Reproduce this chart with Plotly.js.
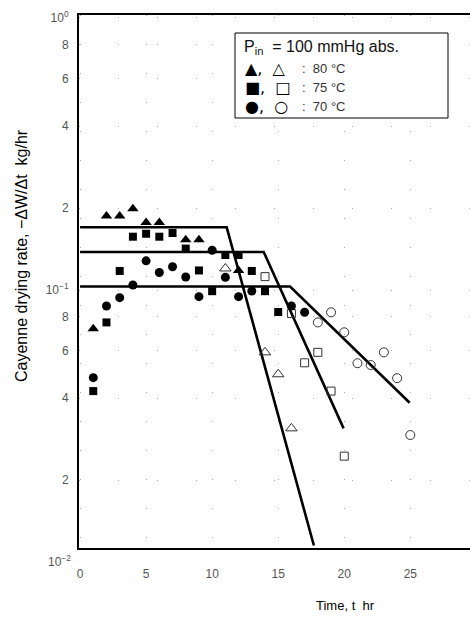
<!DOCTYPE html>
<html>
<head>
<meta charset="utf-8">
<script src="https://cdn.plot.ly/plotly-3.0.1.min.js"></script>
<style>
html,body{margin:0;padding:0;overflow:hidden;background:#fff;}
#chart{width:560px;height:621px;}
</style>
</head>
<body>
<div id="chart"></div>
<script>
// ---- data (time in hr, drying rate in kg/hr) ----
const triFillT = [1, 2, 3, 4, 5, 6, 8, 9, 12];
const triFillV = [0.072, 0.187, 0.187, 0.199, 0.177, 0.177, 0.153, 0.153, 0.118];
const triOpenT = [11, 14, 15, 16];
const triOpenV = [0.120, 0.059, 0.049, 0.031];

const sqFillT = [1, 2, 3, 4, 5, 6, 7, 8, 9, 10, 11, 12, 13, 14, 15];
const sqFillV = [0.0425, 0.076, 0.1175, 0.157, 0.161, 0.157, 0.162, 0.142, 0.118, 0.099, 0.1345, 0.1345, 0.1175, 0.099, 0.083];
const sqOpenT = [14, 16, 17, 18, 19, 20];
const sqOpenV = [0.112, 0.082, 0.054, 0.059, 0.0425, 0.0245];

const ciFillT = [1, 2, 3, 4, 5, 6, 7, 8, 9, 10, 11, 12, 13, 16, 17];
const ciFillV = [0.0476, 0.0873, 0.0937, 0.1043, 0.128, 0.116, 0.1218, 0.1116, 0.0945, 0.140, 0.1113, 0.0945, 0.0992, 0.0873, 0.0828];
const ciOpenT = [18, 19, 20, 21, 22, 23, 24, 25];
const ciOpenV = [0.076, 0.0828, 0.0699, 0.0538, 0.053, 0.059, 0.0474, 0.0293];

// fitted lines: constant-rate then falling-rate
const line80T = [0, 11.1, 17.7];
const line80V = [0.170, 0.170, 0.0115];
const line75T = [0, 13.9, 19.95];
const line75V = [0.138, 0.138, 0.031];
const line70T = [0, 15.9, 24.95];
const line70V = [0.103, 0.103, 0.0385];

const xTicks = [0, 5, 10, 15, 20, 25, 30];
const yTickVals = [0.02, 0.04, 0.06, 0.08, 0.1, 0.2, 0.4, 0.6, 0.8, 1];
const yTickText = ['2', '4', '6', '8', '10<sup>−1</sup>', '2', '4', '6', '8', '10<sup>0</sup>'];

const legendTitle = 'P<sub>in</sub>  = 100 mmHg abs.';
const legendSymbols = ['▲,  △', '■,  □', '●,  ○'];
const legendLabels = [':  80 °C', ':  75 °C', ':  70 °C'];
const xTitle = 'Time, t  hr';
const yTitle = 'Cayenne drying rate, −ΔW/Δt  kg/hr';

// ---- traces ----
function pts(t, v, sym, size, open) {
  return {
    x: t, y: v, type: 'scatter', mode: 'markers', showlegend: false, hoverinfo: 'skip',
    marker: {
      symbol: sym, size: size,
      color: open ? '#333' : '#000',
      line: {width: open ? 1 : 0, color: '#333'}
    }
  };
}
function ln(t, v) {
  return {x: t, y: v, type: 'scatter', mode: 'lines', showlegend: false, hoverinfo: 'skip',
          line: {color: '#000', width: 2.6}};
}
const traces = [
  ln(line80T, line80V), ln(line75T, line75V), ln(line70T, line70V),
  pts(triFillT, triFillV, 'triangle-up', 10, false),
  pts(triOpenT, triOpenV, 'triangle-up-open', 10, true),
  pts(sqFillT, sqFillV, 'square', 8, false),
  pts(sqOpenT, sqOpenV, 'square-open', 8, true),
  pts(ciFillT, ciFillV, 'circle', 9, false),
  pts(ciOpenT, ciOpenV, 'circle-open', 9, true)
];

// ---- layout ----
const W = 560, XMAX = 33;
const L = 79, T = 15, PH = 533;
const PW = Math.round((XMAX + 0.08) * 13.2);
const px = x => (x - L) / PW;
const py = y => (T + PH - y) / PH;

const ann = [];
ann.push({xref: 'paper', yref: 'paper', x: px(242), y: py(48), xanchor: 'left', yanchor: 'middle',
          text: legendTitle, showarrow: false, font: {size: 16, color: '#111'}});
const rowY = [68, 87, 106];
for (let i = 0; i < 3; i++) {
  ann.push({xref: 'paper', yref: 'paper', x: px(243), y: py(rowY[i]), xanchor: 'left', yanchor: 'middle',
            text: legendSymbols[i], showarrow: false, font: {size: 16, color: '#000', family: 'DejaVu Sans'}});
  ann.push({xref: 'paper', yref: 'paper', x: px(300), y: py(rowY[i]), xanchor: 'left', yanchor: 'middle',
            text: legendLabels[i], showarrow: false, font: {size: 13, color: '#333'}});
}
ann.push({xref: 'paper', yref: 'paper', x: px(73), y: py(561), xanchor: 'right', yanchor: 'middle',
          text: '10<sup>−2</sup>', showarrow: false, font: {size: 12, color: '#555'}});
ann.push({xref: 'paper', yref: 'paper', x: px(345), y: py(605), xanchor: 'center', yanchor: 'middle',
          text: xTitle, showarrow: false, font: {size: 13, color: '#000'}});
ann.push({xref: 'paper', yref: 'paper', x: px(21), y: py(256), xanchor: 'center', yanchor: 'middle',
          textangle: -90, text: yTitle, showarrow: false, font: {size: 16, color: '#000'}});

const layout = {
  width: W, height: 621,
  margin: {l: L, t: T, r: W - L - PW, b: 621 - T - PH},
  paper_bgcolor: '#fff', plot_bgcolor: '#fff',
  font: {family: 'Liberation Sans, Arial, sans-serif', color: '#000'},
  showlegend: false,
  xaxis: {
    range: [-0.08, XMAX], tickvals: xTicks, ticks: '', ticklabelstandoff: 14,
    showline: true, linecolor: '#000', linewidth: 2, mirror: true,
    showgrid: true, gridcolor: '#aaa', gridwidth: 1, griddash: '1px,28px',
    zeroline: false, tickfont: {size: 12, color: '#555'}
  },
  yaxis: {
    type: 'log', range: [-1.9485, 0.011],
    tickvals: yTickVals, ticktext: yTickText, ticks: '', ticklabelstandoff: 6,
    showline: true, linecolor: '#000', linewidth: 2, mirror: false,
    showgrid: true, gridcolor: '#aaa', gridwidth: 1, griddash: '1px,38px',
    zeroline: false, tickfont: {size: 12, color: '#555'}
  },
  shapes: [{type: 'rect', xref: 'paper', yref: 'paper', x0: px(235), x1: px(448), y0: py(118), y1: py(33),
            line: {color: '#000', width: 1}, fillcolor: 'rgba(255,255,255,1)', layer: 'above'}],
  annotations: ann
};

Plotly.newPlot('chart', traces, layout, {staticPlot: true, displayModeBar: false});
</script>
</body>
</html>
